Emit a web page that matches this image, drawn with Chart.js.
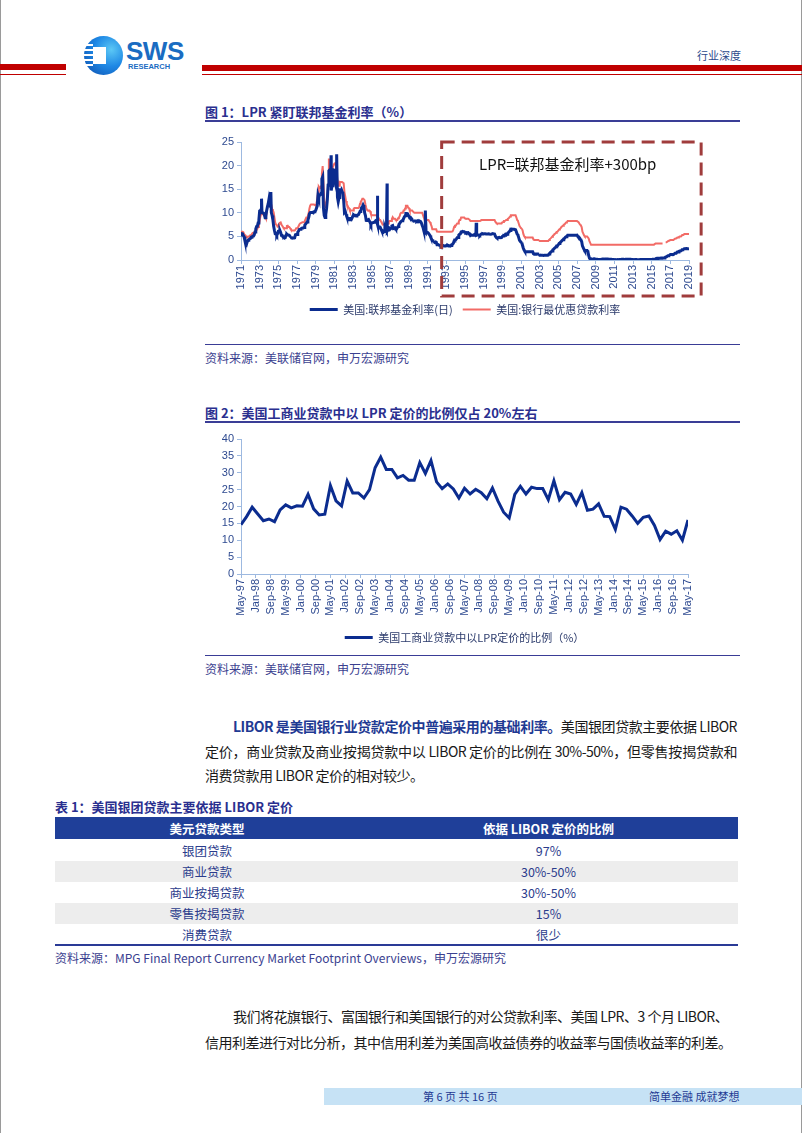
<!DOCTYPE html>
<html><head><meta charset="utf-8">
<script src="https://cdn.jsdelivr.net/npm/chart.js@4.4.1/dist/chart.umd.min.js"></script>
<style>
body{margin:0;background:#fff;}
#page{position:relative;width:802px;height:1133px;overflow:hidden;background:#fff;font-family:"Noto Sans CJK SC","Noto Sans",sans-serif;}
.abs{position:absolute;}
.t{position:absolute;white-space:nowrap;}
.ttl{font-size:13px;font-weight:bold;color:#2A2F8F;line-height:20px;}
.src{font-size:12px;color:#3B4190;line-height:20px;}
.para{font-size:14px;color:#1a1a1a;line-height:20px;letter-spacing:-0.5px;}
.b{font-weight:bold;color:#1F3A93;}
.jl{text-align:justify;text-align-last:justify;}
table{border-collapse:collapse;font-size:12.5px;}
td,th{padding:0;text-align:center;}
</style></head><body><div id="page">

<div class="abs" style="left:0;top:0;width:1px;height:1133px;background:#9a9a9a"></div>
<div class="abs" style="left:801px;top:0;width:1px;height:1133px;background:#9a9a9a"></div>

<!-- header -->
<div class="abs" style="left:0;top:64px;width:66px;height:6px;background:#C00000"></div>
<div class="abs" style="left:0;top:74px;width:66px;height:1px;background:#C00000"></div>
<div class="abs" style="left:202px;top:65px;width:600px;height:6px;background:#C00000"></div>
<div class="abs" style="left:202px;top:74px;width:600px;height:1px;background:#C00000"></div>
<div class="abs" style="left:84px;top:36px;width:39px;height:39px;border-radius:50%;background:radial-gradient(circle at 70% 35%,#5cc8f5 0%,#1e88e5 45%,#0d4aa8 100%);"></div>
<div class="abs" style="left:93px;top:47px;width:13px;height:17px;background:#fff;"></div>
<div class="abs" style="left:84px;top:44px;width:9px;height:2px;background:#fff;"></div>
<div class="abs" style="left:84px;top:49px;width:9px;height:2px;background:#fff;"></div>
<div class="abs" style="left:84px;top:54px;width:9px;height:2px;background:#fff;"></div>
<div class="abs" style="left:84px;top:59px;width:9px;height:2px;background:#fff;"></div>
<div class="abs" style="left:84px;top:64px;width:9px;height:2px;background:#fff;"></div>
<div class="t" style="left:126px;top:37px;font-family:'Liberation Sans',sans-serif;font-weight:bold;font-size:26px;line-height:28px;color:#1A6CC2;letter-spacing:-0.5px">SWS</div>
<div class="t" style="left:128px;top:62px;font-family:'Liberation Sans',sans-serif;font-weight:bold;font-size:7.5px;line-height:9px;color:#1A6CC2">RESEARCH</div>
<div class="t" style="left:697px;top:45px;font-size:11px;line-height:20px;color:#2D4A8C">行业深度</div>

<!-- figure 1 -->
<div class="t ttl" style="left:205px;top:102px">图 1：LPR 紧盯联邦基金利率（%）</div>
<div class="abs" style="left:205px;top:120px;width:535px;height:2px;background:#3A3D96"></div>
<div class="abs" style="left:200px;top:128px;width:530px;height:201px"><canvas id="c1" width="530" height="201"></canvas></div>
<div class="abs" style="left:205px;top:344px;width:535px;height:1px;background:#3A3D96"></div>
<div class="t src" style="left:205px;top:348px">资料来源：美联储官网，申万宏源研究</div>

<!-- figure 2 -->
<div class="t ttl" style="left:205px;top:403px">图 2：美国工商业贷款中以 LPR 定价的比例仅占 20%左右</div>
<div class="abs" style="left:205px;top:421px;width:535px;height:2px;background:#3A3D96"></div>
<div class="abs" style="left:200px;top:425px;width:530px;height:230px"><canvas id="c2" width="530" height="230"></canvas></div>
<div class="abs" style="left:205px;top:655px;width:535px;height:1px;background:#3A3D96"></div>
<div class="t src" style="left:205px;top:659px">资料来源：美联储官网，申万宏源研究</div>

<!-- paragraph -->
<div class="t para jl" style="left:233px;top:716px;width:504px"><span class="b">LIBOR 是美国银行业贷款定价中普遍采用的基础利率。</span>美国银团贷款主要依据 LIBOR</div>
<div class="t para jl" style="left:205px;top:741px;width:532px">定价，商业贷款及商业按揭贷款中以 LIBOR 定价的比例在 30%-50%，但零售按揭贷款和</div>
<div class="t para" style="left:205px;top:765px">消费贷款用 LIBOR 定价的相对较少。</div>

<!-- table -->
<div class="t ttl" style="left:55px;top:797px">表 1：美国银团贷款主要依据 LIBOR 定价</div>
<table class="abs" style="left:55px;top:817px;width:683px;">
<tr style="height:22px;background:#1F3F99;color:#fff;font-weight:bold"><th style="width:304px">美元贷款类型</th><th>依据 LIBOR 定价的比例</th></tr>
<tr style="height:22px;color:#2B3C8C"><td>银团贷款</td><td>97%</td></tr>
<tr style="height:21px;color:#2B3C8C;background:#EDEDED"><td>商业贷款</td><td>30%-50%</td></tr>
<tr style="height:21px;color:#2B3C8C"><td>商业按揭贷款</td><td>30%-50%</td></tr>
<tr style="height:21px;color:#2B3C8C;background:#EDEDED"><td>零售按揭贷款</td><td>15%</td></tr>
<tr style="height:21px;color:#2B3C8C;border-bottom:2px solid #2A3A96"><td>消费贷款</td><td>很少</td></tr>
</table>
<div class="t src" style="left:55px;top:948px">资料来源：MPG Final Report Currency Market Footprint Overviews，申万宏源研究</div>

<!-- paragraph 2 -->
<div class="t para jl" style="left:233px;top:1006px;width:495px">我们将花旗银行、富国银行和美国银行的对公贷款利率、美国 LPR、3 个月 LIBOR、</div>
<div class="t para jl" style="left:205px;top:1032px;width:523px">信用利差进行对比分析，其中信用利差为美国高收益债券的收益率与国债收益率的利差。</div>

<!-- footer -->
<div class="abs" style="left:324px;top:1088px;width:478px;height:17px;background:#C6E2F5"></div>
<div class="t" style="left:423px;top:1087px;font-size:11px;line-height:19px;color:#1F3A93">第 6 页 共 16 页</div>
<div class="t" style="left:649px;top:1087px;font-size:11px;line-height:19px;color:#1F3A93">简单金融 成就梦想</div>

</div>
<script>
// ---------- Figure 1 data (monthly, as plotted from 1971 on the axis) ----------
const rateStartYear = 1971;
const rateTickYears = [1971,1973,1975,1977,1979,1981,1983,1985,1987,1989,1991,1993,1995,1997,1999,2001,2003,2005,2007,2009,2011,2013,2015,2017,2019];
const fedFundsMonthly = [
5.31,5.57,5.55,5.20,4.91,4.14,
3.50,3.29,3.83,4.17,4.27,4.46,4.55,4.80,4.87,5.04,5.06,5.33,
5.94,6.58,7.09,7.12,7.84,8.49,10.40,10.50,10.78,10.01,10.03,9.95,
9.65,8.97,9.35,10.51,11.31,11.93,12.92,12.01,11.34,10.06,9.45,8.53,
7.13,6.24,5.54,5.49,5.22,5.55,6.10,6.14,6.24,5.82,5.22,5.20,
4.87,4.77,4.84,4.82,5.29,5.48,5.31,5.29,5.25,5.03,4.95,4.65,
4.61,4.68,4.69,4.73,5.35,5.39,5.42,5.90,6.14,6.47,6.51,6.56,
6.70,6.78,6.79,6.89,7.36,7.60,7.81,8.04,8.45,8.96,9.76,10.03,
10.07,10.06,10.09,10.01,10.24,10.29,10.47,10.94,11.43,13.77,13.18,13.78,
13.82,14.13,17.19,17.61,10.98,9.47,9.03,9.61,10.87,12.81,15.85,18.90,
19.08,15.93,14.70,15.72,18.52,19.10,19.04,17.82,15.87,15.08,13.31,12.37,
13.22,14.78,14.68,14.94,14.45,14.15,12.59,10.12,10.31,9.71,9.20,8.95,
8.68,8.51,8.77,8.80,8.63,8.98,9.37,9.56,9.45,9.48,9.34,9.47,
9.56,9.59,9.91,10.29,10.32,11.06,11.23,11.64,11.30,9.99,9.43,8.38,
8.35,8.50,8.58,8.27,7.97,7.53,7.88,7.90,7.92,7.99,8.05,8.27,
8.14,7.86,7.48,6.99,6.85,6.92,6.56,6.17,5.89,5.85,6.04,6.91,
6.43,6.10,6.13,6.37,6.85,6.73,6.58,6.73,7.22,7.29,6.69,6.77,
6.83,6.58,6.58,6.87,7.09,7.51,7.75,8.01,8.19,8.30,8.35,8.76,
9.12,9.36,9.85,9.84,9.81,9.53,9.24,8.99,9.02,8.84,8.55,8.45,
8.23,8.24,8.28,8.26,8.18,8.29,8.15,8.13,8.20,8.11,7.81,7.31,
6.91,6.25,6.12,5.91,5.78,5.90,5.82,5.66,5.45,5.21,4.81,4.43,
4.03,4.06,3.98,3.73,3.82,3.76,3.25,3.30,3.22,3.10,3.09,2.92,
3.02,3.03,3.07,2.96,3.00,3.04,3.06,3.03,3.09,2.99,3.02,2.96,
3.05,3.25,3.34,3.56,4.01,4.25,4.26,4.47,4.73,4.76,5.29,5.45,
5.53,5.92,5.98,6.05,6.01,6.00,5.85,5.74,5.80,5.76,5.80,5.60,
5.56,5.22,5.31,5.22,5.24,5.27,5.40,5.22,5.30,5.24,5.31,5.29,
5.25,5.19,5.39,5.51,5.50,5.56,5.52,5.54,5.54,5.50,5.52,5.50,
5.56,5.51,5.49,5.45,5.49,5.56,5.54,5.55,5.51,5.07,4.83,4.68,
4.63,4.76,4.81,4.74,4.74,4.76,4.99,5.07,5.22,5.20,5.42,5.30,
5.45,5.73,5.85,6.02,6.27,6.53,6.54,6.50,6.52,6.51,6.51,6.40,
5.98,5.49,5.31,4.80,4.21,3.97,3.77,3.65,3.07,2.49,2.09,1.82,
1.73,1.74,1.73,1.75,1.75,1.75,1.73,1.74,1.75,1.75,1.34,1.24,
1.24,1.26,1.25,1.26,1.26,1.22,1.01,1.03,1.01,1.01,1.00,0.98,
1.00,1.01,1.00,1.00,1.00,1.03,1.26,1.43,1.61,1.76,1.93,2.16,
2.28,2.50,2.63,2.79,3.00,3.04,3.26,3.50,3.62,3.78,4.00,4.16,
4.29,4.49,4.59,4.79,4.94,4.99,5.24,5.25,5.25,5.25,5.25,5.24,
5.25,5.26,5.26,5.25,5.25,5.25,5.26,5.02,4.94,4.76,4.49,4.24,
3.94,2.98,2.61,2.28,1.98,2.00,2.01,2.00,1.81,0.97,0.39,0.16,
0.15,0.22,0.18,0.15,0.18,0.21,0.16,0.16,0.15,0.12,0.12,0.12,
0.11,0.13,0.16,0.20,0.20,0.18,0.18,0.19,0.19,0.19,0.19,0.18,
0.17,0.16,0.14,0.10,0.09,0.09,0.07,0.10,0.08,0.07,0.08,0.07,
0.08,0.10,0.13,0.14,0.16,0.16,0.16,0.13,0.14,0.16,0.16,0.16,
0.14,0.15,0.14,0.15,0.11,0.09,0.09,0.08,0.08,0.09,0.08,0.09,
0.07,0.07,0.08,0.09,0.09,0.10,0.09,0.09,0.09,0.09,0.09,0.12,
0.11,0.11,0.11,0.12,0.12,0.13,0.13,0.14,0.14,0.12,0.12,0.24,
0.34,0.38,0.36,0.37,0.37,0.38,0.39,0.40,0.40,0.40,0.41,0.54,
0.65,0.66,0.79,0.90,0.91,1.04,1.15,1.16,1.15,1.15,1.16,1.30,
1.41,1.42,1.51,1.69,1.70,1.82,1.91,1.91,1.95,2.19,2.20,2.27,
2.40,2.40,2.41,2.42,2.39,2.38,2.40
];
// daily extremes visible as spikes: [axis year, value]
const fedFundsSpikes = [[1973.2,13.0],[1974.2,14.4],[1980.65,22.2],[1981.25,22.4],[1985.6,13.6],[1986.65,16.2],[1990.75,10.5],[1996.2,7.9]];
const primeRateMonthly = [
5.91,6.00,6.00,5.91,5.47,5.25,
5.18,4.75,4.75,4.97,5.00,5.04,5.25,5.27,5.50,5.73,5.75,5.79,
6.00,6.02,6.30,6.61,7.01,7.49,8.30,9.23,9.86,9.94,9.75,9.75,
9.73,9.21,8.85,10.02,11.25,11.54,11.98,12.00,12.00,11.68,10.83,10.50,
10.05,8.96,7.93,7.50,7.40,7.07,7.15,7.66,7.88,7.96,7.53,7.26,
7.00,6.75,6.75,6.75,6.75,7.20,7.25,7.01,7.00,6.78,6.50,6.35,
6.25,6.25,6.25,6.25,6.41,6.75,6.75,6.83,7.13,7.52,7.75,7.75,
7.93,8.00,8.00,8.00,8.27,8.63,9.00,9.01,9.41,9.94,10.94,11.55,
11.75,11.75,11.75,11.75,11.75,11.65,11.54,11.91,12.90,14.39,15.55,15.30,
15.25,15.63,18.31,19.90,16.57,12.63,11.48,11.12,12.23,13.79,16.06,21.50,
20.16,19.43,18.05,17.15,19.61,20.03,20.39,20.50,20.08,18.45,16.84,15.75,
15.75,16.56,16.50,16.50,16.50,16.50,16.26,14.39,13.50,12.52,11.85,11.50,
11.16,10.98,10.50,10.50,10.50,10.50,10.50,10.89,11.00,11.00,11.00,11.00,
11.00,11.00,11.21,11.93,12.39,12.60,13.00,13.00,12.97,12.58,11.77,11.06,
10.61,10.50,10.50,10.50,10.31,9.78,9.50,9.50,9.50,9.50,9.50,9.50,
9.50,9.50,9.10,8.83,8.50,8.50,8.16,7.90,7.50,7.50,7.50,7.50,
7.50,7.50,7.50,7.75,8.14,8.25,8.25,8.25,8.70,9.07,8.78,8.75,
8.75,8.51,8.50,8.50,8.84,9.00,9.29,9.84,10.00,10.00,10.05,10.50,
10.50,10.93,11.50,11.50,11.50,11.07,10.98,10.50,10.50,10.50,10.50,10.50,
10.11,10.00,10.00,10.00,10.00,10.00,10.00,10.00,10.00,10.00,10.00,10.00,
9.52,9.05,9.00,9.00,8.50,8.50,8.50,8.50,8.20,8.00,7.58,7.21,
6.50,6.50,6.50,6.50,6.50,6.50,6.02,6.00,6.00,6.00,6.00,6.00,
6.00,6.00,6.00,6.00,6.00,6.00,6.00,6.00,6.00,6.00,6.00,6.00,
6.00,6.00,6.06,6.45,6.99,7.25,7.25,7.51,7.75,7.75,8.15,8.50,
8.50,9.00,9.00,9.00,9.00,9.00,8.80,8.75,8.75,8.75,8.75,8.65,
8.50,8.25,8.25,8.25,8.25,8.25,8.25,8.25,8.25,8.25,8.25,8.25,
8.25,8.25,8.30,8.50,8.50,8.50,8.50,8.50,8.50,8.50,8.50,8.50,
8.50,8.50,8.50,8.50,8.50,8.50,8.50,8.50,8.49,8.12,7.89,7.75,
7.75,7.75,7.75,7.75,7.75,7.75,8.00,8.06,8.25,8.25,8.37,8.50,
8.50,8.73,8.83,9.00,9.24,9.50,9.50,9.50,9.50,9.50,9.50,9.50,
9.05,8.50,8.32,7.80,7.24,6.98,6.75,6.67,6.28,5.53,5.10,4.84,
4.75,4.75,4.75,4.75,4.75,4.75,4.75,4.75,4.75,4.75,4.35,4.25,
4.25,4.25,4.25,4.25,4.25,4.22,4.00,4.00,4.00,4.00,4.00,4.00,
4.00,4.00,4.00,4.00,4.00,4.01,4.25,4.43,4.58,4.75,4.93,5.15,
5.25,5.49,5.58,5.75,5.98,6.01,6.25,6.44,6.59,6.75,7.00,7.15,
7.26,7.50,7.53,7.75,7.93,8.02,8.25,8.25,8.25,8.25,8.25,8.25,
8.25,8.25,8.25,8.25,8.25,8.25,8.25,8.25,8.03,7.74,7.50,7.33,
6.98,6.00,5.66,5.24,5.00,5.00,5.00,5.00,5.00,4.56,4.00,3.61,
3.25,3.25,3.25,3.25,3.25,3.25,3.25,3.25,3.25,3.25,3.25,3.25,
3.25,3.25,3.25,3.25,3.25,3.25,3.25,3.25,3.25,3.25,3.25,3.25,
3.25,3.25,3.25,3.25,3.25,3.25,3.25,3.25,3.25,3.25,3.25,3.25,
3.25,3.25,3.25,3.25,3.25,3.25,3.25,3.25,3.25,3.25,3.25,3.25,
3.25,3.25,3.25,3.25,3.25,3.25,3.25,3.25,3.25,3.25,3.25,3.25,
3.25,3.25,3.25,3.25,3.25,3.25,3.25,3.25,3.25,3.25,3.25,3.25,
3.25,3.25,3.25,3.25,3.25,3.25,3.25,3.25,3.25,3.25,3.25,3.50,
3.50,3.50,3.50,3.50,3.50,3.50,3.50,3.50,3.50,null,null,null,
3.75,3.75,3.88,4.00,4.00,4.13,4.25,4.25,4.25,4.25,4.25,4.40,
4.50,4.50,4.59,4.75,4.75,4.87,5.00,5.00,5.03,5.25,5.25,5.35,
5.50,5.50,5.50,5.50,5.50,5.50,5.50
];
const lprBoxYears = [1992.5, 2020.3];
const lprNote = 'LPR=联邦基金利率+300bp';

// ---------- Figure 2 data (quarterly survey, May-97 .. May-17) ----------
const ratioTickLabels = ['May-97','Jan-98','Sep-98','May-99','Jan-00','Sep-00','May-01','Jan-02','Sep-02','May-03','Jan-04','Sep-04','May-05','Jan-06','Sep-06','May-07','Jan-08','Sep-08','May-09','Jan-10','Sep-10','May-11','Jan-12','Sep-12','May-13','Jan-14','Sep-14','May-15','Jan-16','Sep-16','May-17'];
const ratioValues = [
14.6,17.0,19.8,17.8,15.8,16.3,15.5,19.0,20.5,19.6,
20.2,20.1,23.6,19.3,17.5,17.7,26.2,21.7,20.2,27.5,
24.0,24.0,22.5,25.0,31.5,34.6,31.0,31.0,28.5,29.2,
27.8,27.8,33.0,29.8,33.6,27.3,25.3,26.7,25.2,22.5,
25.4,23.7,25.1,24.1,22.3,25.5,21.6,18.3,16.6,23.6,
26.0,23.7,25.7,25.3,25.3,22.0,27.6,22.0,24.2,23.7,
20.6,24.1,18.9,19.2,20.8,17.1,17.0,13.2,19.8,19.2,
17.2,15.0,16.8,17.2,14.4,10.2,12.7,11.8,12.8,10.0,
16.0
];

// ---------- build ----------
Chart.defaults.font.family = "'Liberation Sans','Noto Sans CJK SC',sans-serif";
const AXIS = '#9DB9E0', TICK = '#2E4A90', LEG = '#2B3A6B';
const BLUE = '#0B2C8F', RED = '#F26B66';

const fedPoints = fedFundsMonthly.map((v,i)=>({x: rateStartYear + i/12, y: v}))
  .concat(fedFundsSpikes.map(p=>({x:p[0], y:p[1]})))
  .sort((a,b)=>a.x-b.x);
const primePoints = primeRateMonthly.map((v,i)=>({x: rateStartYear + i/12, y: v}));

const lprBox = {
  id:'lprBox',
  afterDraw(chart){
    const {ctx, scales:{x,y}, chartArea} = chart;
    const l = x.getPixelForValue(lprBoxYears[0]), r = x.getPixelForValue(lprBoxYears[1]);
    const t = chartArea.top, b = x.bottom + 2;
    ctx.save();
    ctx.setLineDash([13,7]); ctx.lineWidth = 3; ctx.strokeStyle = '#A03C3C';
    ctx.strokeRect(l, t, r-l, b-t);
    ctx.setLineDash([]);
    ctx.font = "15px 'Noto Sans CJK SC'"; ctx.fillStyle = '#111';
    ctx.textAlign = 'center'; ctx.textBaseline = 'middle';
    ctx.fillText(lprNote, x.getPixelForValue(2006), y.getPixelForValue(20.2));
    ctx.restore();
  }
};

function legendOpts(){
  return {position:'bottom', fullSize:false, labels:{usePointStyle:true, pointStyle:'line', pointStyleWidth:28, color:LEG, padding:10,
    font:{size:11, family:"'Noto Sans CJK SC','Liberation Sans',sans-serif"}}};
}
function gridOpts(){ return {display:true, drawOnChartArea:false, color:AXIS, tickLength:4}; }

new Chart(document.getElementById('c1'), {
  type:'line',
  data:{datasets:[
    {label:'美国:联邦基金利率(日)', data:fedPoints, borderColor:BLUE, backgroundColor:BLUE, borderWidth:3, pointRadius:0, tension:0},
    {label:'美国:银行最优惠贷款利率', data:primePoints, borderColor:RED, backgroundColor:RED, borderWidth:2, pointRadius:0, tension:0, spanGaps:false}
  ]},
  options:{
    responsive:false, animation:false,
    layout:{padding:{top:14, right:41, bottom:4, left:0}},
    plugins:{legend:legendOpts(), tooltip:{enabled:false}},
    scales:{
      x:{type:'linear', min:1971, max:2019,
        afterBuildTicks:s=>{ s.ticks = rateTickYears.map(v=>({value:v})); },
        afterFit:s=>{ s.height = 34; },
        grid:gridOpts(), border:{color:AXIS},
        ticks:{autoSkip:false, minRotation:90, maxRotation:90, padding:1, color:TICK, font:{size:11}, callback:v=>String(v)}},
      y:{min:0, max:25, afterFit:s=>{ s.width = 41; },
        grid:gridOpts(), border:{color:AXIS},
        ticks:{stepSize:5, padding:3, color:TICK, font:{size:11}}}
    }
  },
  plugins:[lprBox]
});

new Chart(document.getElementById('c2'), {
  type:'line',
  data:{datasets:[
    {label:'美国工商业贷款中以LPR定价的比例（%）', data:ratioValues.map((v,i)=>({x:i*3, y:v})), borderColor:BLUE, backgroundColor:BLUE, borderWidth:3, pointRadius:0, tension:0}
  ]},
  options:{
    responsive:false, animation:false,
    layout:{padding:{top:14, right:42, bottom:2, left:0}},
    plugins:{legend:legendOpts(), tooltip:{enabled:false}},
    scales:{
      x:{type:'linear', min:0, max:240,
        afterBuildTicks:s=>{ s.ticks = ratioTickLabels.map((l,i)=>({value:i*8})); },
        afterFit:s=>{ s.height = 48; },
        grid:gridOpts(), border:{color:AXIS},
        ticks:{autoSkip:false, minRotation:90, maxRotation:90, padding:1, color:TICK, font:{size:11}, callback:(v,i)=>ratioTickLabels[i]}},
      y:{min:0, max:40, afterFit:s=>{ s.width = 41; },
        grid:gridOpts(), border:{color:AXIS},
        ticks:{stepSize:5, padding:3, color:TICK, font:{size:11}}}
    }
  }
});
</script>
</body></html>
